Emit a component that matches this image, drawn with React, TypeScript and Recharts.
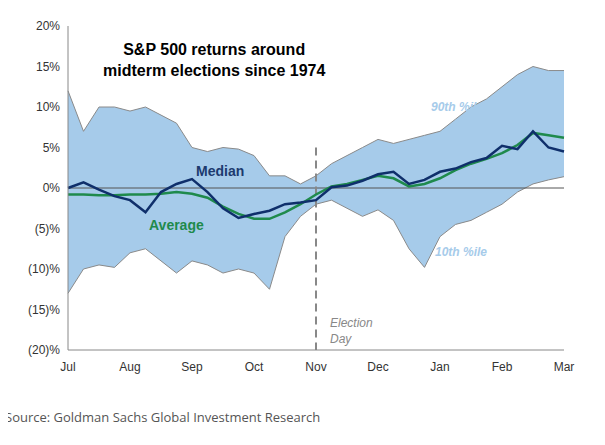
import { Area, ComposedChart, Line, ReferenceLine, XAxis, YAxis } from "recharts";

const months = ["Jul", "Aug", "Sep", "Oct", "Nov", "Dec", "Jan", "Feb", "Mar"];
const yTicks = [20, 15, 10, 5, 0, -5, -10, -15, -20];

// quarter-month steps from Jul to Mar
const upper = [12, 7, 10, 10, 9.5, 10, 9, 8, 5, 4.5, 5, 4.8, 4, 1.5, 1.5, 0.5, 1.5, 3, 4, 5, 6, 5.5, 6, 6.5, 7, 8.5, 10, 11, 12.5, 14, 15, 14.5, 14.5];
const lower = [-13, -10, -9.5, -9.8, -8, -7.5, -9, -10.5, -9, -9.5, -10.5, -10, -10.5, -12.5, -6, -3.5, -2, -1.5, -2.5, -3.5, -2.7, -4, -7.5, -9.8, -6, -4.5, -4, -3, -2, -0.5, 0.5, 1, 1.4];
const median = [0, 0.7, -0.2, -1, -1.5, -3, -0.5, 0.5, 1.1, -0.5, -2.5, -3.7, -3.2, -2.8, -2, -1.8, -1.5, 0.1, 0.3, 0.9, 1.7, 2, 0.5, 1, 2, 2.4, 3.2, 3.7, 5.2, 4.8, 7, 5, 4.5];
const average = [-0.8, -0.8, -0.9, -0.9, -0.8, -0.8, -0.7, -0.5, -0.7, -1.2, -2.3, -3.2, -3.8, -3.8, -3, -2, -0.8, 0.2, 0.5, 1, 1.5, 1.2, 0.2, 0.5, 1.2, 2.2, 3, 3.6, 4.3, 5.3, 6.8, 6.5, 6.2];

const data = upper.map((u, i) => ({
  x: i / 4,
  band: [lower[i], u],
  median: median[i],
  average: average[i],
}));

const fmt = (v: number) => (v < 0 ? `(${-v})%` : `${v}%`);

const abs = (left: number, top: number, style: React.CSSProperties = {}) => ({
  position: "absolute" as const,
  left,
  top,
  whiteSpace: "nowrap" as const,
  ...style,
});

export default function App() {
  const font = "Arial, 'Liberation Sans', sans-serif";
  return (
    <div style={{ position: "relative", width: 597, height: 437, fontFamily: font }}>
      <ComposedChart
        width={597}
        height={437}
        data={data}
        margin={{ top: 18, right: 41, bottom: 55, left: 0 }}
      >
        <XAxis
          dataKey="x"
          type="number"
          domain={[0, 8]}
          ticks={[0, 1, 2, 3, 4, 5, 6, 7, 8]}
          tickFormatter={(v: number) => months[v]}
          tick={{ fontSize: 12, fill: "#333", fontFamily: font }}
          tickLine={false}
          axisLine={{ stroke: "#888" }}
          tickMargin={6}
          height={40}
        />
        <YAxis
          type="number"
          domain={[-20, 20]}
          ticks={yTicks}
          tickFormatter={fmt}
          tick={{ fontSize: 12, fill: "#333", fontFamily: font }}
          tickLine={false}
          axisLine={{ stroke: "#888" }}
          width={60}
        />
        <Area
          dataKey="band"
          type="linear"
          fill="#a6cbea"
          fillOpacity={1}
          stroke="#8a8a8a"
          strokeWidth={1}
          isAnimationActive={false}
        />
        <ReferenceLine y={0} stroke="#555" strokeWidth={1} />
        <ReferenceLine
          segment={[{ x: 4, y: 5 }, { x: 4, y: -20 }]}
          stroke="#888"
          strokeWidth={2}
          strokeDasharray="8 5"
        />
        <Line dataKey="average" type="linear" stroke="#1f8a4c" strokeWidth={2.5} dot={false} isAnimationActive={false} />
        <Line dataKey="median" type="linear" stroke="#0f2f6b" strokeWidth={2.5} dot={false} isAnimationActive={false} />
      </ComposedChart>
      <div style={abs(95, 31, { fontSize: 16, fontWeight: "bold", color: "#000", lineHeight: "21px", textAlign: "center" })}>
        S&amp;P 500 returns around
        <br />
        midterm elections since 1974
      </div>
      <div style={abs(188, 155, { fontSize: 14, fontWeight: "bold", color: "#1c3a6e" })}>Median</div>
      <div style={abs(141, 209, { fontSize: 14, fontWeight: "bold", color: "#1f8a4c" })}>Average</div>
      <div style={abs(423, 92, { fontSize: 12, fontWeight: "bold", fontStyle: "italic", color: "#a6cbea" })}>90th %ile</div>
      <div style={abs(427, 237, { fontSize: 12, fontWeight: "bold", fontStyle: "italic", color: "#a6cbea" })}>10th %ile</div>
      <div style={abs(322, 307, { fontSize: 12, fontStyle: "italic", color: "#888", lineHeight: "16px" })}>
        Election
        <br />
        Day
      </div>
      <div style={abs(-3, 400, { fontSize: 13, color: "#555", fontFamily: "'Open Sans', sans-serif" })}>
        Source: Goldman Sachs Global Investment Research
      </div>
    </div>
  );
}
